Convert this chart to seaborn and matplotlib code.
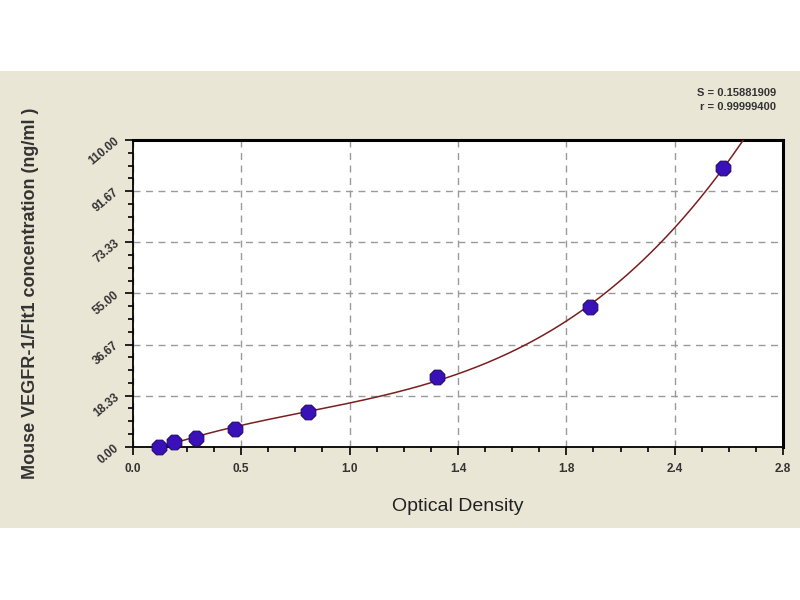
import numpy as np
import pandas as pd
import matplotlib
matplotlib.use("Agg")
import matplotlib.pyplot as plt
import seaborn as sns
from matplotlib.patches import Rectangle
from matplotlib.ticker import MultipleLocator, FixedLocator

# standard curve readings
optical_density = [0.112, 0.176, 0.273, 0.438, 0.755, 1.31, 1.97, 2.54]
concentration = [0.0, 1.56, 3.13, 6.25, 12.5, 25.0, 50.0, 100.0]

x_tick_values = [0.0, 2.8 / 6, 2 * 2.8 / 6, 1.4, 4 * 2.8 / 6, 5 * 2.8 / 6, 2.8]
x_tick_labels = ["0.0", "0.5", "1.0", "1.4", "1.8", "2.4", "2.8"]
y_tick_values = [0.0, 110 / 6, 2 * 110 / 6, 55.0, 4 * 110 / 6, 5 * 110 / 6, 110.0]
y_tick_labels = ["0.00", "18.33", "36.67", "55.00", "73.33", "91.67", "110.00"]

fit_stats = ["S = 0.15881909", "r = 0.99999400"]

df = pd.DataFrame({"OD": optical_density, "conc": concentration})

# fitted standard curve (cubic through the standards)
coef = np.polyfit(df["OD"], df["conc"], 3)
curve_x = np.linspace(df["OD"].min(), 2.75, 300)
curve = pd.DataFrame({"OD": curve_x, "conc": np.polyval(coef, curve_x)})

sns.set_style("white")
plt.rcParams["font.family"] = ["Liberation Sans", "DejaVu Sans"]

fig = plt.figure(figsize=(8, 6), dpi=100)
fig.patch.set_facecolor("white")
fig.patches.append(Rectangle((0, 0.12), 1, 0.7617, transform=fig.transFigure,
                             facecolor="#EAE6D6", edgecolor="none", zorder=-10))

ax = fig.add_axes([0.166, 0.2555, 0.813, 0.511])
ax.set_zorder(1)
ax.set_facecolor("white")

sns.lineplot(data=curve, x="OD", y="conc", ax=ax, color="#7A1F1F", linewidth=1.1,
             zorder=3, sort=False)
sns.scatterplot(data=df, x="OD", y="conc", ax=ax, marker="8", s=130,
                color="#3A10B8", edgecolor="#22086E", linewidth=0.8, zorder=4,
                clip_on=False)

ax.set_xlim(0, 2.8)
ax.set_ylim(0, 110)

ax.xaxis.set_major_locator(FixedLocator(x_tick_values))
ax.set_xticklabels(x_tick_labels)
ax.xaxis.set_minor_locator(MultipleLocator(2.8 / 24))
ax.yaxis.set_major_locator(FixedLocator(y_tick_values))
ax.set_yticklabels(y_tick_labels, rotation=40, ha="right", va="center",
                   rotation_mode="anchor")
ax.yaxis.set_minor_locator(MultipleLocator(110 / 24))

ax.tick_params(axis="both", which="major", direction="out", length=6, width=1.2,
               colors="black", labelsize=8.5, bottom=True, left=True)
ax.tick_params(axis="both", which="minor", direction="out", length=3.5, width=1.2,
               colors="black", bottom=True, left=True)
ax.tick_params(axis="x", pad=6)
ax.tick_params(axis="y", pad=5)
for lab in ax.get_xticklabels() + ax.get_yticklabels():
    lab.set_fontweight("bold")
    lab.set_color("#333333")

ax.grid(True, which="major", linestyle=(0, (5, 4)), color="#9A9A9A", linewidth=1.0)
ax.set_axisbelow(True)

for side in ["left", "bottom"]:
    ax.spines[side].set_linewidth(1.3)
    ax.spines[side].set_color("black")
for side in ["top", "right"]:
    ax.spines[side].set_linewidth(2.2)
    ax.spines[side].set_color("black")
    ax.spines[side].set_visible(True)

ax.set_xlabel("Optical Density", fontsize=14, color="#222222", labelpad=16)
ax.set_ylabel("Mouse VEGFR-1/Flt1 concentration (ng/ml )", fontsize=13,
              fontweight="bold", color="#333333", labelpad=34)

fig.text(0.970, 0.845, fit_stats[0], ha="right", va="center", fontsize=8,
         fontweight="bold", color="#333333")
fig.text(0.970, 0.822, fit_stats[1], ha="right", va="center", fontsize=8,
         fontweight="bold", color="#333333")

fig.savefig("out.png", dpi=100)
plt.close(fig)
